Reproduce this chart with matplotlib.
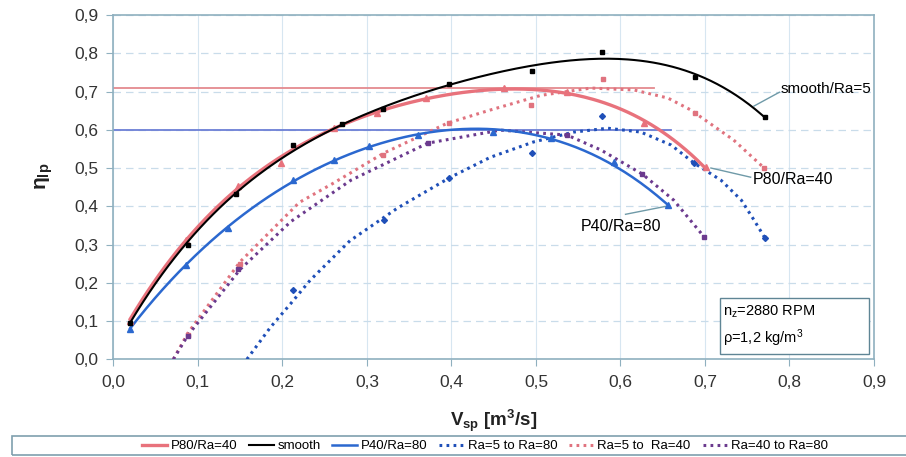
import matplotlib
matplotlib.use("Agg")
import matplotlib.pyplot as plt
import numpy as np
from matplotlib.lines import Line2D
from matplotlib.patches import Rectangle
from matplotlib.ticker import FuncFormatter, MultipleLocator

plt.rcParams["font.family"] = ["Liberation Sans", "DejaVu Sans"]
plt.rcParams["mathtext.fontset"] = "custom"
plt.rcParams["mathtext.rm"] = "Liberation Sans"
plt.rcParams["mathtext.it"] = "Liberation Sans:italic"
plt.rcParams["mathtext.bf"] = "Liberation Sans:bold"

# measured points, solid series
smooth_x = [0.02, 0.088, 0.145, 0.213, 0.271, 0.319, 0.397, 0.495, 0.578, 0.688, 0.771]
smooth_y = [0.095, 0.30, 0.432, 0.56, 0.615, 0.654, 0.72, 0.753, 0.803, 0.738, 0.633]

p80_x = [0.02, 0.086, 0.148, 0.198, 0.261, 0.312, 0.37, 0.462, 0.537, 0.628, 0.701]
p80_y = [0.10, 0.311, 0.453, 0.513, 0.604, 0.643, 0.683, 0.709, 0.699, 0.617, 0.502]

p40_x = [0.02, 0.086, 0.136, 0.213, 0.261, 0.302, 0.361, 0.449, 0.518, 0.592, 0.656]
p40_y = [0.08, 0.246, 0.343, 0.468, 0.521, 0.557, 0.586, 0.594, 0.578, 0.515, 0.403]

# points along the trend lines of the solid series
smooth_cx = [0.02, 0.05, 0.088, 0.145, 0.2, 0.25, 0.3, 0.35, 0.4, 0.45, 0.5, 0.55,
             0.6, 0.65, 0.7, 0.74, 0.771]
smooth_cy = [0.095, 0.205, 0.30, 0.432, 0.53, 0.595, 0.642, 0.682, 0.718, 0.746, 0.768,
             0.783, 0.787, 0.775, 0.73, 0.685, 0.633]

p80_cx = [0.02, 0.05, 0.086, 0.148, 0.2, 0.25, 0.3, 0.35, 0.4, 0.45, 0.5, 0.55, 0.6,
          0.628, 0.66, 0.701]
p80_cy = [0.10, 0.215, 0.311, 0.45, 0.53, 0.59, 0.635, 0.67, 0.695, 0.708, 0.706, 0.69,
          0.655, 0.62, 0.575, 0.502]

p40_cx = [0.02, 0.05, 0.086, 0.136, 0.2, 0.261, 0.302, 0.35, 0.4, 0.45, 0.5, 0.55, 0.6,
          0.656]
p40_cy = [0.08, 0.165, 0.246, 0.343, 0.45, 0.521, 0.557, 0.582, 0.597, 0.60, 0.587, 0.553,
          0.497, 0.403]

# recalculated curves (dotted)
ra5_80_x = [0.158, 0.186, 0.21, 0.233, 0.28, 0.336, 0.399, 0.446, 0.497, 0.545, 0.585,
            0.624, 0.66, 0.687, 0.719, 0.743, 0.758, 0.771]
ra5_80_y = [0.0, 0.084, 0.146, 0.207, 0.31, 0.395, 0.476, 0.528, 0.568, 0.594, 0.604,
            0.594, 0.56, 0.513, 0.468, 0.416, 0.364, 0.317]

ra5_40_x = [0.071, 0.088, 0.15, 0.22, 0.26, 0.32, 0.395, 0.445, 0.506, 0.565, 0.616,
            0.656, 0.683, 0.734, 0.77]
ra5_40_y = [0.0, 0.068, 0.255, 0.41, 0.46, 0.539, 0.617, 0.651, 0.69, 0.709, 0.704,
            0.683, 0.652, 0.573, 0.50]

ra40_80_x = [0.071, 0.088, 0.15, 0.21, 0.281, 0.372, 0.458, 0.537, 0.577, 0.626, 0.663, 0.699]
ra40_80_y = [0.0, 0.062, 0.235, 0.36, 0.468, 0.565, 0.599, 0.586, 0.547, 0.484, 0.416, 0.32]

# measured points belonging to the dotted series
ra5_80_px = [0.213, 0.32, 0.397, 0.495, 0.578, 0.687, 0.771]
ra5_80_py = [0.18, 0.365, 0.474, 0.539, 0.636, 0.513, 0.317]
ra5_40_px = [0.088, 0.15, 0.319, 0.397, 0.494, 0.579, 0.688, 0.77]
ra5_40_py = [0.063, 0.25, 0.533, 0.617, 0.665, 0.732, 0.644, 0.50]
ra40_80_px = [0.088, 0.148, 0.372, 0.537, 0.626, 0.699]
ra40_80_py = [0.06, 0.235, 0.565, 0.586, 0.484, 0.32]

RED = "#e8727c"
BLUE = "#2b68cf"
PINK_DOT = "#e0737f"
BLUE_DOT = "#1f4fb8"
PURPLE_DOT = "#6b3a8e"
FRAME = "#8fb0bf"
LEADER = "#6f9aa8"

fig = plt.figure(figsize=(9.06, 4.57), dpi=100)
ax = fig.add_axes([0.1251, 0.2138, 0.8396, 0.7534])

dot = (0, (0.9, 1.4))


def trend(xs, ys, deg=4):
    # polynomial trend line over the range of the series
    c = np.polyfit(xs, ys, deg)
    xx = np.linspace(xs[0], xs[-1], 200)
    return xx, np.polyval(c, xx)


# max-efficiency reference lines
ax.plot([0, 0.64], [0.71, 0.71], color="#e48a8f", lw=1.3, zorder=2)
ax.plot([0, 0.66], [0.60, 0.60], color="#6c7fd6", lw=1.3, zorder=2)

ax.plot(ra5_80_x, ra5_80_y, color=BLUE_DOT, lw=2.2, ls=dot, zorder=3)
ax.plot(ra5_40_x, ra5_40_y, color=PINK_DOT, lw=2.2, ls=dot, zorder=3)
ax.plot(ra40_80_x, ra40_80_y, color=PURPLE_DOT, lw=2.2, ls=dot, zorder=3)
ax.plot(ra5_80_px, ra5_80_py, ls="none", marker="D", ms=3, color=BLUE_DOT, zorder=4)
ax.plot(ra5_40_px, ra5_40_py, ls="none", marker="s", ms=3, color=PINK_DOT, zorder=4)
ax.plot(ra40_80_px, ra40_80_py, ls="none", marker="s", ms=3, color=PURPLE_DOT, zorder=4)

ax.plot(*trend(p80_cx, p80_cy), color=RED, lw=2.4, zorder=5)
ax.plot(p80_x, p80_y, ls="none", marker="^", ms=4, color=RED, zorder=6)

ax.plot(*trend(p40_cx, p40_cy), color=BLUE, lw=1.8, zorder=5)
ax.plot(p40_x, p40_y, ls="none", marker="^", ms=4, color=BLUE, zorder=6)

ax.plot(*trend(smooth_cx, smooth_cy), color="black", lw=1.5, zorder=6)
ax.plot(smooth_x, smooth_y, ls="none", marker="s", ms=3.5, color="black", zorder=7)

# curve labels with leader lines
ax.plot([0.758, 0.788], [0.662, 0.698], color=LEADER, lw=1)
ax.text(0.789, 0.706, "smooth/Ra=5", fontsize=11, va="center", ha="left")
ax.plot([0.707, 0.754], [0.50, 0.476], color=LEADER, lw=1)
ax.text(0.757, 0.471, "P80/Ra=40", fontsize=11.5, va="center", ha="left")
ax.plot([0.654, 0.606], [0.400, 0.379], color=LEADER, lw=1)
ax.text(0.553, 0.348, "P40/Ra=80", fontsize=11.5, va="center", ha="left")

# operating conditions box
ax.add_patch(Rectangle((0.797, 0.0145), 0.196, 0.163, transform=ax.transAxes,
                       fill=True, facecolor="white", edgecolor="#5f8595", lw=1, zorder=8))
ax.text(0.801, 0.137, r"n$_\mathregular{z}$=2880 RPM", transform=ax.transAxes,
        fontsize=10.5, va="center", ha="left", zorder=9)
ax.text(0.801, 0.061, r"ρ=1,2 kg/m$^\mathregular{3}$", transform=ax.transAxes,
        fontsize=10.5, va="center", ha="left", zorder=9)

ax.set_xlim(0, 0.9)
ax.set_ylim(0, 0.9)
ax.xaxis.set_major_locator(MultipleLocator(0.1))
ax.yaxis.set_major_locator(MultipleLocator(0.1))
comma = FuncFormatter(lambda v, _: f"{v:.1f}".replace(".", ","))
ax.xaxis.set_major_formatter(comma)
ax.yaxis.set_major_formatter(comma)
ax.tick_params(direction="out", length=5, color=FRAME, labelsize=12.5,
               labelcolor="#333333", pad=6)
for s in ax.spines.values():
    s.set_color(FRAME)
    s.set_linewidth(1.2)
ax.grid(True, axis="y", color="#c9dcea", lw=0.9, ls=(0, (6, 4)))
ax.grid(True, axis="x", color="#d7e6f1", lw=0.8)
ax.set_axisbelow(True)

ax.set_xlabel(r"V$_\mathbf{sp}$ [m$^\mathbf{3}$/s]", fontsize=13.5, fontweight="bold",
              color="#222222")
ax.xaxis.set_label_coords(0.5, -0.14)
ax.set_ylabel(r"$\mathbf{\eta_{lp}}$", fontsize=15, color="#222222")
ax.yaxis.set_label_coords(-0.077, 0.53)

handles = [
    Line2D([], [], color=RED, lw=2.4),
    Line2D([], [], color="black", lw=1.5),
    Line2D([], [], color=BLUE, lw=1.8),
    Line2D([], [], color=BLUE_DOT, lw=2.2, ls=dot),
    Line2D([], [], color=PINK_DOT, lw=2.2, ls=dot),
    Line2D([], [], color=PURPLE_DOT, lw=2.2, ls=dot),
]
labels = ["P80/Ra=40", "smooth", "P40/Ra=80", "Ra=5 to Ra=80",
          "Ra=5 to  Ra=40", "Ra=40 to Ra=80"]
fig.legend(handles, labels, loc="center", bbox_to_anchor=(485 / 906, 1 - 446 / 457),
           ncol=6, frameon=False, fontsize=9.5, handlelength=1.9, handletextpad=0.25,
           columnspacing=0.9, borderpad=0.1)
fig.add_artist(Rectangle((12 / 906, 2 / 457), 1.0, 19 / 457, transform=fig.transFigure,
                         fill=False, edgecolor="#7f9fae", lw=1.2))

fig.savefig("out.png", dpi=100)
